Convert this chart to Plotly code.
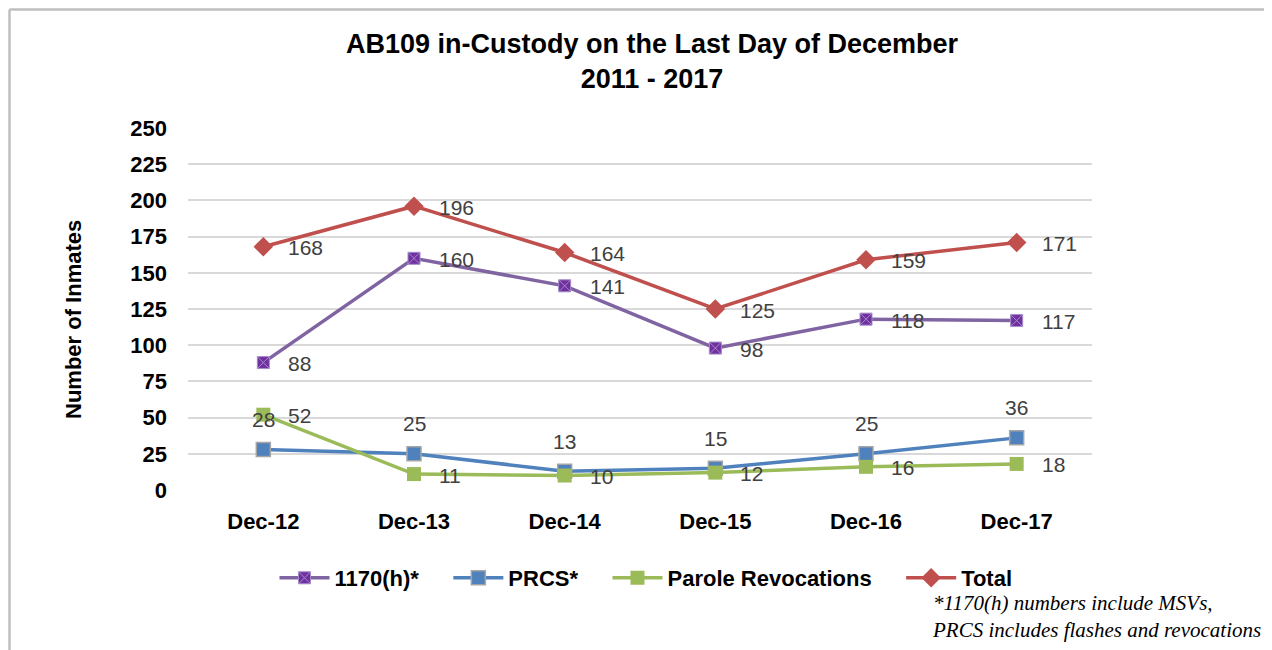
import plotly.graph_objects as go

categories = ["Dec-12", "Dec-13", "Dec-14", "Dec-15", "Dec-16", "Dec-17"]
h1170 = [88, 160, 141, 98, 118, 117]
prcs = [28, 25, 13, 15, 25, 36]
parole = [52, 11, 10, 12, 16, 18]
total = [168, 196, 164, 125, 159, 171]
y_ticks = [0, 25, 50, 75, 100, 125, 150, 175, 200, 225, 250]

OFF = 8  # page body margin
W, H = 1272, 650
L, T = 188 - OFF, 128 - OFF
R = W - (1092 - OFF)
B = H - (490 - OFF)
PW, PH = W - L - R, H - T - B

def px_x(p):
    return (p - OFF - L) / PW

def px_y(p):
    return (H - B - (p - OFF)) / PH

fig = go.Figure()

series = [
    ("1170(h)*", h1170, "#8064A2", dict(symbol="square-x", size=12, color="#7030A0",
                                         line=dict(color="#A48BC9", width=1))),
    ("PRCS*", prcs, "#4F81BD", dict(symbol="square", size=14, color="#4F81BD",
                                    line=dict(color="#A5A5A5", width=1.5))),
    ("Parole Revocations", parole, "#9BBB59", dict(symbol="square", size=14, color="#9BBB59",
                                                  line=dict(width=0))),
    ("Total", total, "#C0504D", dict(symbol="diamond", size=15, color="#C0504D",
                                     line=dict(width=0))),
]

for i, (name, vals, col, mk) in enumerate(series):
    pad = "" if i == len(series) - 1 else "\u00a0" * 4
    fig.add_trace(go.Scatter(
        x=categories, y=vals, name=name + pad, mode="lines+markers",
        line=dict(color=col, width=3.5), marker=mk,
    ))

FONT = "Liberation Sans, Arial, sans-serif"
label_font = dict(family=FONT, size=21, color="#404040")
annotations = []
for name, vals, col, mk in series:
    for c, v in zip(categories, vals):
        if name == "PRCS*":
            annotations.append(dict(x=c, y=v, xref="x", yref="y", text=str(v),
                                    showarrow=False, xanchor="center", yanchor="middle",
                                    yshift=30, font=label_font))
        else:
            annotations.append(dict(x=c, y=v, xref="x", yref="y", text=str(v),
                                    showarrow=False, xanchor="left", yanchor="middle",
                                    xshift=23, yshift=-1, font=label_font))

# y axis title
annotations.append(dict(x=px_x(73), y=px_y(320), xref="paper", yref="paper",
                        text="<b>Number of Inmates</b>", textangle=-90, showarrow=False,
                        xanchor="center", yanchor="middle",
                        font=dict(family=FONT, size=22, color="#000000")))
# footnote
annotations.append(dict(x=px_x(930), y=px_y(589), xref="paper", yref="paper",
                        text="<i>*1170(h) numbers include MSVs,<br>PRCS includes flashes and revocations</i>",
                        showarrow=False, xanchor="left", yanchor="top", align="left",
                        font=dict(family="Liberation Serif, Times New Roman, serif", size=21, color="#000000")))

shapes = [
    dict(type="line", xref="paper", yref="paper", x0=px_x(9.5), x1=px_x(9.5), y0=px_y(9.5), y1=px_y(700),
         line=dict(color="#BFBFBF", width=2.5)),
    dict(type="line", xref="paper", yref="paper", x0=px_x(9.5), x1=px_x(1300), y0=px_y(9.5), y1=px_y(9.5),
         line=dict(color="#BFBFBF", width=2.5)),
]

fig.update_layout(
    width=W, height=H, autosize=False,
    margin=dict(l=L, r=R, t=T, b=B, pad=0),
    paper_bgcolor="white", plot_bgcolor="white",
    title=dict(text="<b>AB109 in-Custody on the Last Day of December<br>2011 - 2017</b>",
               x=(652 - OFF) / W, xanchor="center", y=1 - 45 / H, yanchor="top",
               font=dict(family=FONT, size=27, color="#000000")),
    xaxis=dict(type="category", range=[-0.5, 5.5], showgrid=False, showline=False, zeroline=False,
               ticks="", ticklabelstandoff=16,
               tickfont=dict(family=FONT, size=22, color="#000000", weight="bold")),
    yaxis=dict(range=[0, 250], tickvals=y_ticks, ticktext=[str(t) for t in y_ticks],
               showgrid=True, gridcolor="#D9D9D9", gridwidth=1.5, zeroline=False, showline=False,
               ticks="", ticklabelstandoff=20,
               tickfont=dict(family=FONT, size=22, color="#000000", weight="bold")),
    legend=dict(orientation="h", x=px_x(646), xanchor="center", y=px_y(578), yanchor="middle",
                font=dict(family=FONT, size=22, color="#000000", weight="bold"),
                itemwidth=50, bgcolor="rgba(0,0,0,0)"),
    annotations=annotations,
    shapes=shapes,
    showlegend=True,
)

fig.write_html("out.html")
